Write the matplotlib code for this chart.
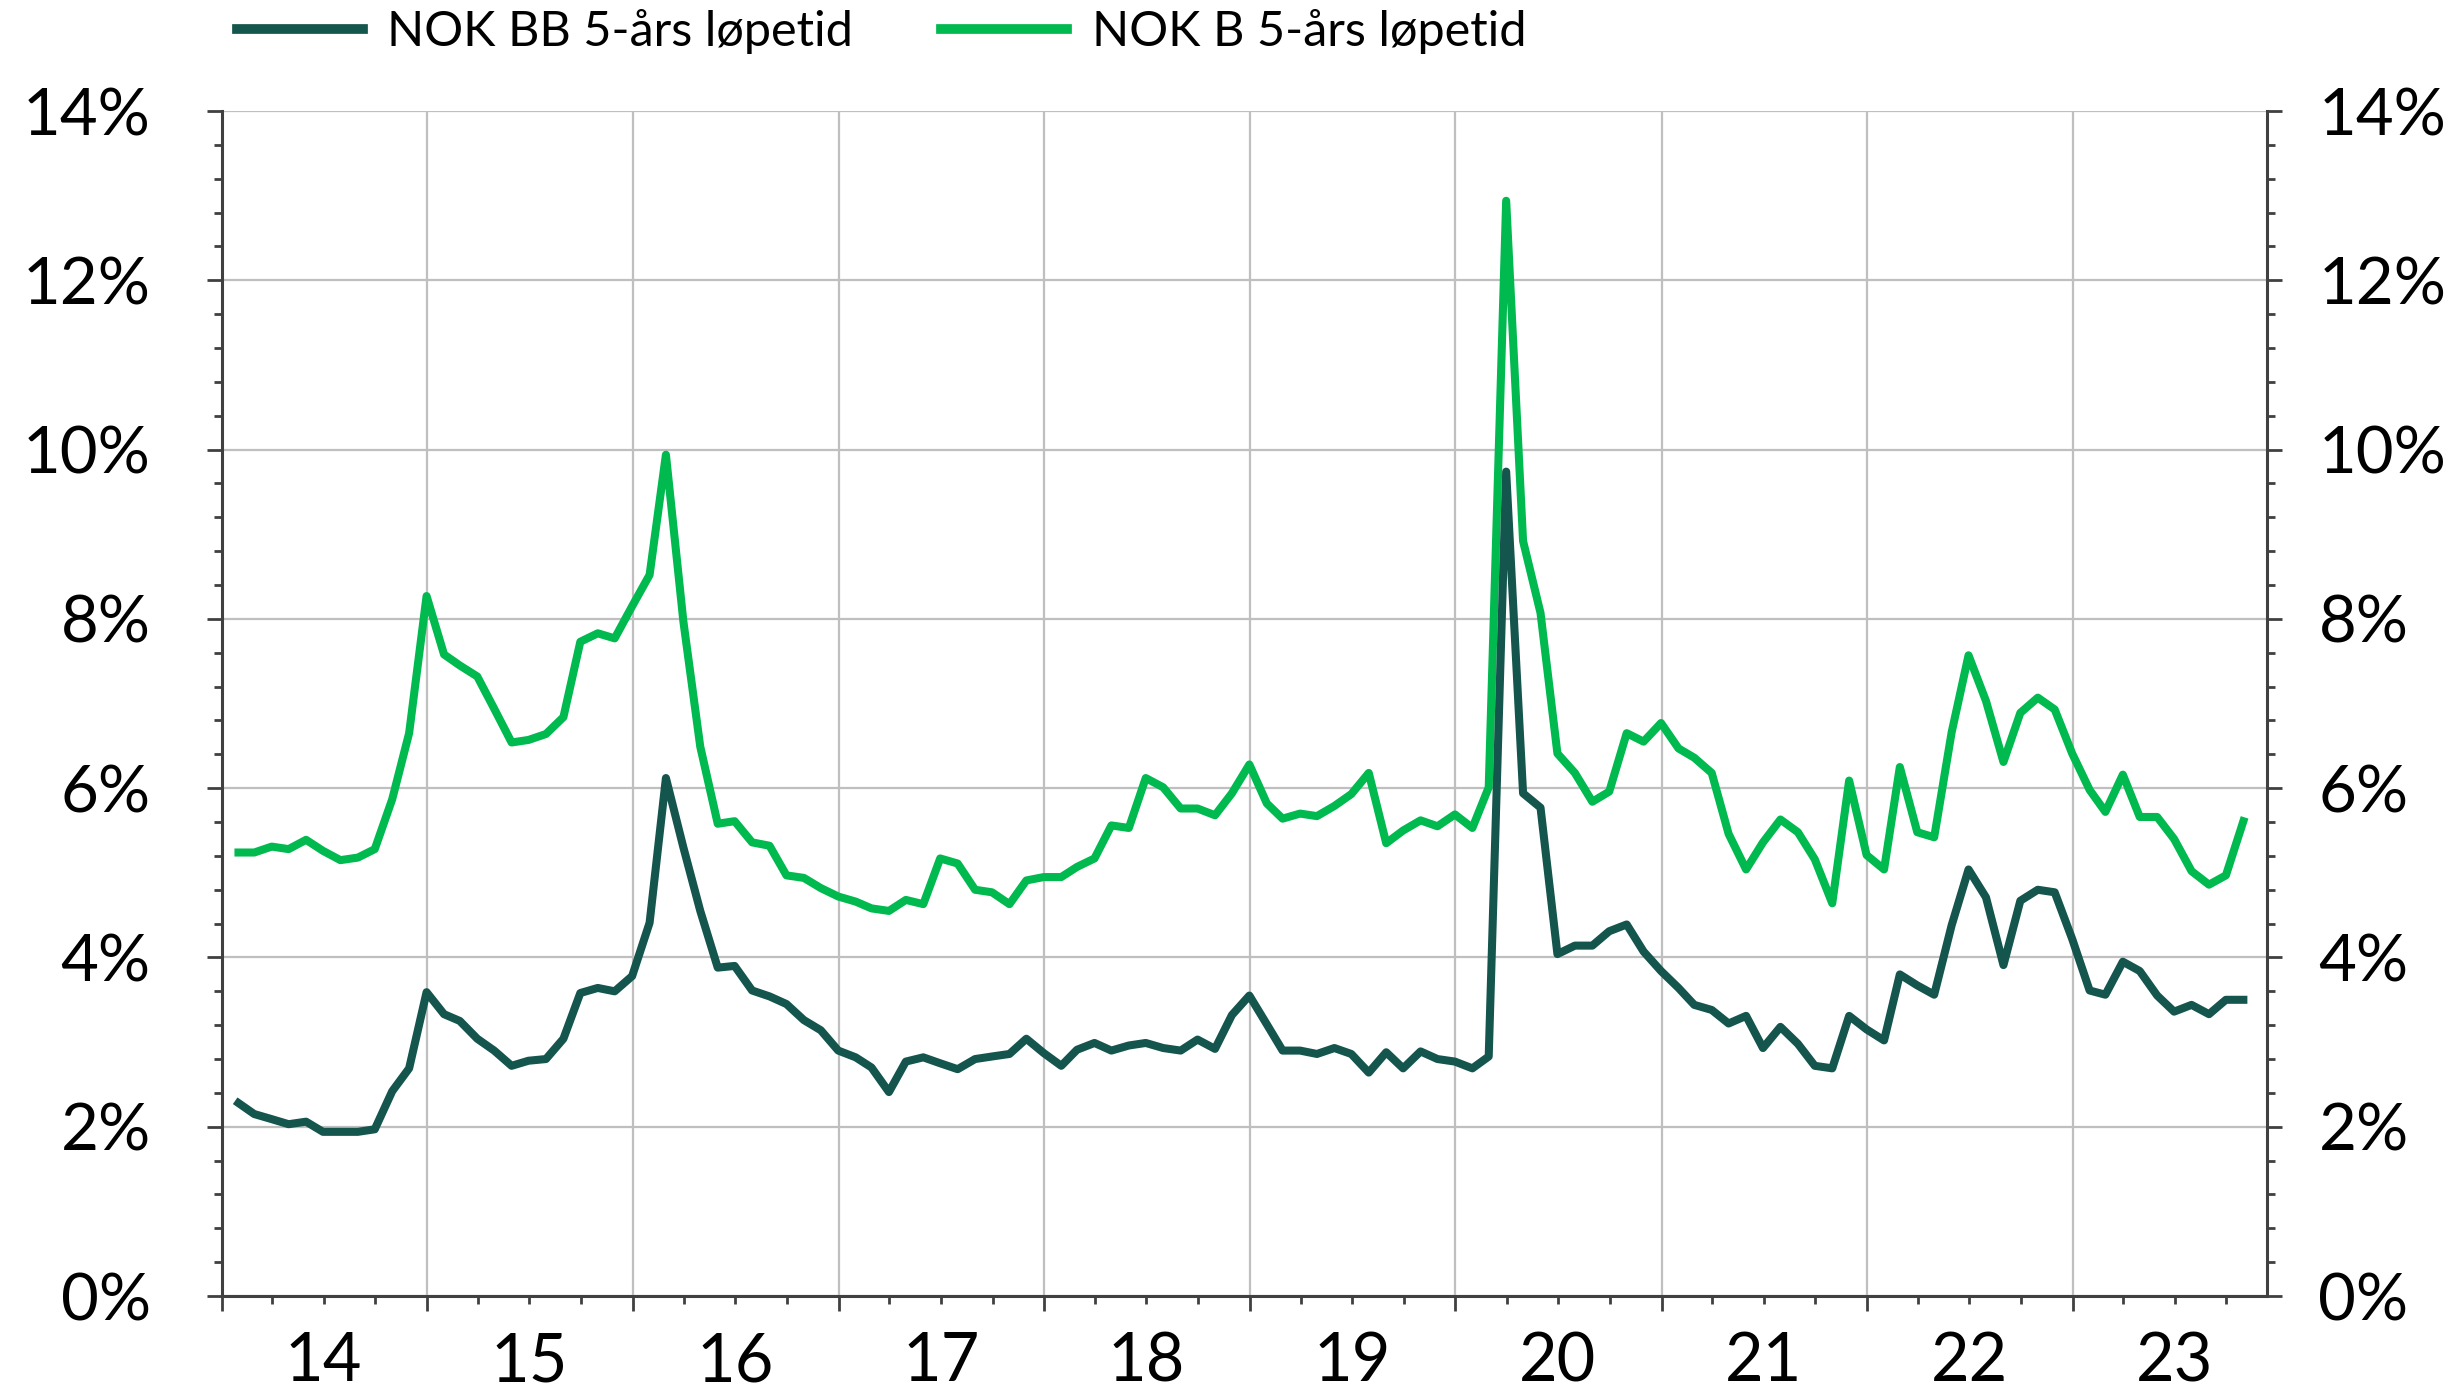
import matplotlib
matplotlib.use("Agg")
import matplotlib.pyplot as plt
import matplotlib.dates as mdates
from matplotlib.ticker import MultipleLocator, FuncFormatter
import pandas as pd

plt.rcParams['font.family'] = ['Lato', 'DejaVu Sans']

# month-end observations, Jan 2014 - Oct 2023
dates = pd.date_range('2014-01-31', '2023-10-31', freq='ME')

nok_bb = [
    2.28, 2.15, 2.09, 2.03, 2.06, 1.94, 1.94, 1.94, 1.97, 2.42, 2.69, 3.59,
    3.33, 3.25, 3.04, 2.90, 2.72, 2.78, 2.80, 3.04, 3.58, 3.64, 3.60, 3.78,
    4.41, 6.12, 5.30, 4.55, 3.88, 3.90, 3.61, 3.54, 3.45, 3.26, 3.14, 2.90,
    2.82, 2.70, 2.41, 2.77, 2.82, 2.75, 2.68, 2.80, 2.83, 2.86, 3.04, 2.87,
    2.72, 2.91, 2.99, 2.90, 2.96, 2.99, 2.93, 2.90, 3.03, 2.92, 3.32, 3.55,
    3.21, 2.90, 2.90, 2.86, 2.93, 2.86, 2.64, 2.88, 2.69, 2.89, 2.80, 2.77,
    2.69, 2.83, 9.74, 5.94, 5.77, 4.04, 4.14, 4.14, 4.31, 4.39, 4.07, 3.84,
    3.64, 3.44, 3.38, 3.22, 3.31, 2.93, 3.18, 2.98, 2.72, 2.69, 3.31, 3.15,
    3.02, 3.80, 3.67, 3.56, 4.38, 5.04, 4.71, 3.91, 4.67, 4.80, 4.77, 4.22,
    3.61, 3.56, 3.95, 3.84, 3.55, 3.36, 3.44, 3.33, 3.50, 3.50,
]

nok_b = [
    5.24, 5.24, 5.31, 5.28, 5.39, 5.26, 5.15, 5.18, 5.28, 5.87, 6.65, 8.27,
    7.58, 7.45, 7.32, 6.94, 6.54, 6.57, 6.64, 6.84, 7.73, 7.83, 7.77, 8.15,
    8.52, 9.94, 7.97, 6.49, 5.58, 5.61, 5.36, 5.32, 4.97, 4.94, 4.82, 4.72,
    4.66, 4.58, 4.55, 4.68, 4.63, 5.17, 5.11, 4.80, 4.77, 4.63, 4.91, 4.95,
    4.95, 5.07, 5.17, 5.56, 5.53, 6.12, 6.01, 5.76, 5.76, 5.68, 5.94, 6.28,
    5.82, 5.64, 5.70, 5.67, 5.79, 5.93, 6.18, 5.35, 5.50, 5.62, 5.55, 5.69,
    5.53, 6.01, 12.94, 8.92, 8.07, 6.41, 6.18, 5.84, 5.96, 6.65, 6.55, 6.77,
    6.47, 6.36, 6.18, 5.46, 5.04, 5.36, 5.63, 5.48, 5.16, 4.64, 6.09, 5.21,
    5.04, 6.25, 5.48, 5.42, 6.66, 7.57, 7.03, 6.31, 6.89, 7.07, 6.93, 6.41,
    5.98, 5.72, 6.16, 5.66, 5.66, 5.40, 5.02, 4.86, 4.97, 5.61,
]

labels = ['NOK BB 5-års løpetid', 'NOK B 5-års løpetid']
dark = '#14554D'
green = '#00B94F'
axcol = '#404040'

fig = plt.figure(figsize=(24.62, 13.9), dpi=100)
ax = fig.add_axes([0.090, 0.0676, 0.8308, 0.8525])

l2, = ax.plot(dates, nok_b, color=green, lw=5.8, label=labels[1], zorder=3)
l1, = ax.plot(dates, nok_bb, color=dark, lw=5.8, label=labels[0], zorder=4)

ax.set_ylim(0, 14)
ax.set_xlim(pd.Timestamp('2014-01-01'), pd.Timestamp('2023-12-12'))

# y axis
ax.yaxis.set_major_locator(MultipleLocator(2))
ax.yaxis.set_minor_locator(MultipleLocator(0.4))
pct = FuncFormatter(lambda v, p: f'{v:.0f}%')
ax.yaxis.set_major_formatter(pct)

# x axis: gridlines at year starts, labels centred mid-year
ax.xaxis.set_major_locator(mdates.YearLocator())
ax.xaxis.set_major_formatter(FuncFormatter(lambda v, p: ''))
ax.xaxis.set_minor_locator(mdates.MonthLocator(bymonth=[4, 7, 10]))
ax.xaxis.set_minor_formatter(FuncFormatter(
    lambda v, p: mdates.num2date(v).strftime('%y') if mdates.num2date(v).month == 7 else ''))

ax.grid(True, which='major', color='#BFBFBF', lw=1.6, zorder=0)
ax.set_axisbelow(True)

for s in ['left', 'bottom']:
    ax.spines[s].set_color(axcol)
    ax.spines[s].set_linewidth(2.2)
ax.spines['top'].set_visible(False)
ax.spines['right'].set_visible(False)

ax.tick_params(axis='y', which='major', length=11, width=2, color=axcol,
               labelsize=47, pad=40)
ax.tick_params(axis='y', which='minor', length=5.5, width=2, color=axcol)
ax.tick_params(axis='x', which='major', length=11, width=2, color=axcol)
ax.tick_params(axis='x', which='minor', length=5.5, width=2, color=axcol,
               labelsize=48, pad=20)

# right axis mirrors left
ax2 = ax.twinx()
ax2.set_ylim(ax.get_ylim())
ax2.yaxis.set_major_locator(MultipleLocator(2))
ax2.yaxis.set_minor_locator(MultipleLocator(0.4))
ax2.yaxis.set_major_formatter(pct)
ax2.spines['right'].set_color(axcol)
ax2.spines['right'].set_linewidth(2.2)
for s in ['top', 'left', 'bottom']:
    ax2.spines[s].set_visible(False)
ax2.tick_params(axis='y', which='major', length=11, width=2, color=axcol,
                labelsize=47, pad=26)
ax2.tick_params(axis='y', which='minor', length=5.5, width=2, color=axcol)

leg = fig.legend([l1, l2], labels, loc='center', bbox_to_anchor=(0.358, 0.977),
                 ncol=2, frameon=False, fontsize=35, handlelength=2.6,
                 handletextpad=0.5, columnspacing=1.8)
for h in leg.legend_handles:
    h.set_linewidth(7)

fig.savefig('out.png', dpi=100)
